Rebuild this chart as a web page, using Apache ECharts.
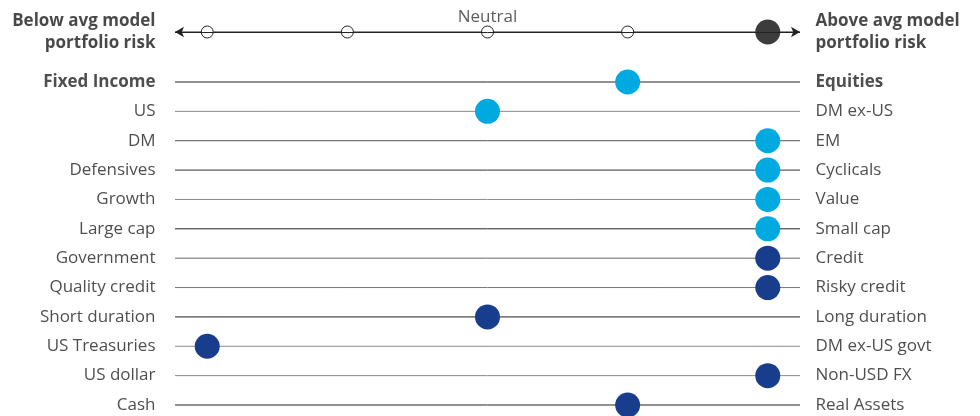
<!DOCTYPE html>
<html><head><meta charset="utf-8">
<script src="https://cdn.jsdelivr.net/npm/echarts@6/dist/echarts.min.js"></script>
<style>html,body{margin:0;padding:0;background:#fff}#c{width:980px;height:416px}</style>
</head><body><div id="c"></div>
<script>
// ---- data ----
const leftLabels = ['Fixed Income','US','DM','Defensives','Growth','Large cap','Government','Quality credit','Short duration','US Treasuries','US dollar','Cash'];
const rightLabels = ['Equities','DM ex-US','EM','Cyclicals','Value','Small cap','Credit','Risky credit','Long duration','DM ex-US govt','Non-USD FX','Real Assets'];
const rowValues = [1,0,2,2,2,2,2,2,0,-2,2,1];
const rowGroup = ['a','a','a','a','a','a','b','b','b','b','b','b'];
const scalePositions = [-2,-1,0,1,2];
const overallRisk = 2;
const headerLeft = 'Below avg model\nportfolio risk';
const headerRight = 'Above avg model\nportfolio risk';
const neutralLabel = 'Neutral';
const boldRows = ['Fixed Income'];

// ---- styles ----
const FONT = 'Open Sans';
const TXT = '#222';
const groupColor = {a:'#00a9e0', b:'#183d8c'};
const lineShade = ['#222','#888','#555','#333','#888','#222','#666','#777','#222','#888','#888','#222'];
const XMIN = -2.23, XMAX = 2.23, HEADER_Y = -1.703;

const series = [];
// row lines
leftLabels.forEach((lab, i) => {
  series.push({
    type:'line', silent:true, symbol:'none', z:1,
    lineStyle:{color:lineShade[i], width:1},
    data:[[XMIN,i],[XMAX,i]]
  });
});
// labels (invisible anchor points at both line ends)
const labelData = [];
leftLabels.forEach((lab, i) => {
  const bold = boldRows.includes(lab);
  labelData.push({value:[XMIN,i], label:{show:true, position:'left', distance:19, formatter:lab, align:'right',
    fontFamily:FONT, fontSize:17, fontWeight: bold?'bold':'normal', color:TXT}});
  labelData.push({value:[XMAX,i], label:{show:true, position:'right', distance:15, formatter:rightLabels[i], align:'left',
    fontFamily:FONT, fontSize:17, fontWeight: bold?'bold':'normal', color:TXT}});
});
labelData.push({value:[XMIN,HEADER_Y], label:{show:true, position:'left', distance:19, formatter:headerLeft, align:'right',
  fontFamily:FONT, fontSize:17, fontWeight:'bold', lineHeight:22, color:'#1a1a1a'}});
labelData.push({value:[XMAX,HEADER_Y], label:{show:true, position:'right', distance:15, formatter:headerRight, align:'left',
  fontFamily:FONT, fontSize:17, fontWeight:'bold', lineHeight:22, color:'#1a1a1a'}});
labelData.push({value:[0,HEADER_Y], label:{show:true, position:'top', distance:6, formatter:neutralLabel, align:'center',
  fontFamily:FONT, fontSize:17, color:'#333'}});
series.push({type:'scatter', silent:true, z:0, symbolSize:1, itemStyle:{color:'rgba(0,0,0,0)'}, data:labelData});

// header line with arrows
series.push({
  type:'line', silent:true, symbol:'none', z:1,
  lineStyle:{color:'#222', width:1},
  data:[[XMIN,HEADER_Y],[XMAX,HEADER_Y]],
  markLine:{
    silent:true, symbol:['arrow','arrow'], symbolSize:[8,9], label:{show:false},
    lineStyle:{color:'#222', width:1, type:'solid'},
    data:[[{coord:[XMIN,HEADER_Y]},{coord:[XMAX,HEADER_Y]}]]
  }
});
// scale points
series.push({
  type:'scatter', z:3, symbol:'circle', symbolSize:12, silent:true,
  itemStyle:{color:'#fff', borderColor:'#222', borderWidth:1, opacity:1},
  data: scalePositions.filter(p => p !== overallRisk).map(p => [p,HEADER_Y])
});
series.push({
  type:'scatter', z:4, symbol:'circle', symbolSize:25, silent:true,
  itemStyle:{color:'#3c3c3c', opacity:1},
  data:[[overallRisk,HEADER_Y]]
});
// row dots
series.push({
  type:'scatter', z:5, symbol:'circle', symbolSize:25, silent:true,
  data: rowValues.map((v,i) => ({value:[v,i], itemStyle:{color:groupColor[rowGroup[i]], opacity:1}}))
});

const chart = echarts.init(document.getElementById('c'));
chart.setOption({
  animation:false,
  grid:{left:175, right:180, top:32, bottom:11},
  xAxis:{type:'value', min:XMIN, max:XMAX, show:false},
  yAxis:{type:'value', min:HEADER_Y, max:11, inverse:true, show:false},
  series: series.map(s => Object.assign({clip:false}, s))
});
</script>
</body></html>
